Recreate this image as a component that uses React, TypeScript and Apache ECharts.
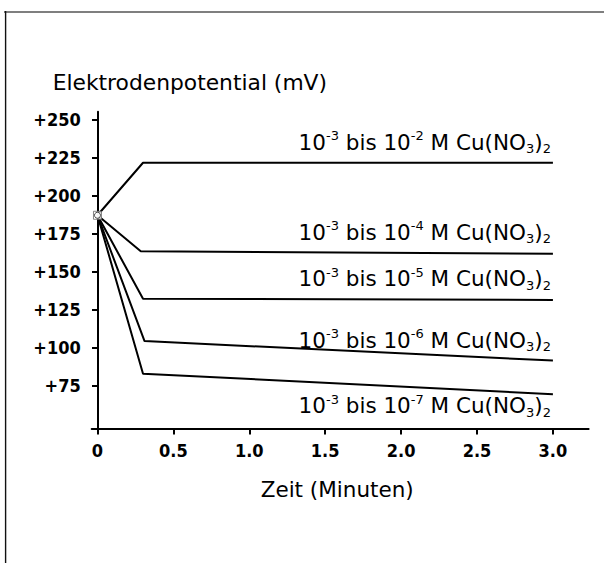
import React, { useEffect, useRef } from "react";
import * as echarts from "echarts";

// ---- data ----
const X_TICKS = [0, 0.5, 1.0, 1.5, 2.0, 2.5, 3.0];
const Y_TICKS = [75, 100, 125, 150, 175, 200, 225, 250];
const START_POINT = [0, 187];
const SERIES_1E2 = [[0, 187], [0.3, 221.5], [3.0, 221.5]];
const SERIES_1E4 = [[0, 187], [0.285, 163.4], [3.0, 161.8]];
const SERIES_1E5 = [[0, 187], [0.3, 132.2], [3.0, 131.4]];
const SERIES_1E6 = [[0, 187], [0.31, 104.4], [3.0, 91.6]];
const SERIES_1E7 = [[0, 187], [0.3, 83], [3.0, 69.5]];
const SERIES_LIST = [SERIES_1E2, SERIES_1E4, SERIES_1E5, SERIES_1E6, SERIES_1E7];
const EXPONENTS = ["-2", "-4", "-5", "-6", "-7"];
const X_NAME = "Zeit (Minuten)";
const Y_NAME = "Elektrodenpotential (mV)";

// ---- layout (label baseline offsets from line end, px) ----
const LABEL_BASELINE_OFFSETS = [-13, -14, -14, -13, 19];
const TEXT_FONT = "DejaVu Sans";
const TICK_FONT = "DejaVu Sans Condensed";

export default function App() {
  const ref = useRef<HTMLDivElement>(null);
  useEffect(() => {
    if (!ref.current) return;
    const chart = echarts.init(ref.current, null, { renderer: "svg" });
    const lineSeries = SERIES_LIST.map((d, i) => ({
      type: "line",
      name: "10-3 bis 10" + EXPONENTS[i] + " M Cu(NO3)2",
      data: d,
      symbol: "none",
      lineStyle: { color: "#000", width: 2 },
      z: 2,
    }));
    chart.setOption({
      animation: false,
      grid: { left: 91.7, right: 15.4, top: 111.7, bottom: 134.5, containLabel: false },
      xAxis: {
        type: "value",
        min: -0.038,
        max: 3.235,
        splitLine: { show: false },
        axisLine: { lineStyle: { color: "#000", width: 2 } },
        axisTick: { show: true, customValues: X_TICKS, length: 6, lineStyle: { color: "#000", width: 2 } },
        axisLabel: {
          customValues: X_TICKS,
          margin: 13,
          fontFamily: TICK_FONT,
          fontWeight: "bold",
          fontSize: 18,
          color: "#000",
          formatter: (v: number) => (v === 0 ? "0" : v.toFixed(1)),
        },
      },
      yAxis: {
        type: "value",
        min: 47,
        max: 255,
        splitLine: { show: false },
        axisLine: { onZero: true, lineStyle: { color: "#000", width: 2 } },
        axisTick: { show: true, customValues: Y_TICKS, length: 5.5, lineStyle: { color: "#000", width: 2 } },
        axisLabel: {
          customValues: Y_TICKS,
          margin: 11,
          fontFamily: TICK_FONT,
          fontWeight: "bold",
          fontSize: 18,
          color: "#000",
          formatter: (v: number) => "+" + v,
        },
      },
      series: [
        ...lineSeries,
        {
          type: "scatter",
          data: [START_POINT],
          symbol: "rect",
          symbolSize: 8,
          itemStyle: { color: "#fff", borderColor: "#666", borderWidth: 1 },
          z: 5,
        },
        {
          type: "scatter",
          data: [START_POINT],
          symbol: "circle",
          symbolSize: 6,
          itemStyle: { color: "#fff", borderColor: "#222", borderWidth: 1 },
          z: 6,
        },
      ],
    });

    const labels = SERIES_LIST.map((d, i) => {
      const last = d[d.length - 1];
      const p = chart.convertToPixel({ gridIndex: 0 }, last) as number[];
      const baseline = p[1] + LABEL_BASELINE_OFFSETS[i];
      return {
        type: "text",
        x: p[0] - 2,
        y: baseline - 20.3,
        style: {
          text: "10{sup|-3} bis 10{sup|" + EXPONENTS[i] + "} M Cu(NO{sub|3}){sub|2}",
          align: "right",
          verticalAlign: "top",
          fontFamily: TEXT_FONT,
          fontSize: 21.5,
          lineHeight: 26,
          fill: "#000",
          rich: {
            sup: { fontFamily: TEXT_FONT, fontSize: 13, lineHeight: 17, verticalAlign: "top", fill: "#000" },
            sub: { fontFamily: TEXT_FONT, fontSize: 13, lineHeight: 12, verticalAlign: "bottom", fill: "#000" },
          },
        },
        z: 10,
      };
    });
    const x0 = chart.convertToPixel({ gridIndex: 0 }, [0, 47]) as number[];
    const x3 = chart.convertToPixel({ gridIndex: 0 }, [3, 47]) as number[];

    chart.setOption({
      graphic: [
        { type: "line", shape: { x1: 4, y1: 12, x2: 604, y2: 12 }, style: { stroke: "#7f7f7f", lineWidth: 2.2 } },
        { type: "line", shape: { x1: 5.6, y1: 11, x2: 5.6, y2: 563 }, style: { stroke: "#111", lineWidth: 1.4 } },
        {
          type: "text",
          x: 52.7,
          y: 82,
          style: { text: Y_NAME, fontFamily: TEXT_FONT, fontSize: 21.8, fill: "#000", align: "left", verticalAlign: "middle" },
        },
        {
          type: "text",
          x: (x0[0] + x3[0]) / 2 + 12,
          y: 489,
          style: { text: X_NAME, fontFamily: TEXT_FONT, fontSize: 21.5, fill: "#000", align: "center", verticalAlign: "middle" },
        },
        ...labels,
      ],
    });
    return () => chart.dispose();
  }, []);
  return (
    <div
      ref={ref}
      style={{ position: "fixed", left: 0, top: 0, width: 604, height: 563, background: "#fff" }}
    />
  );
}
